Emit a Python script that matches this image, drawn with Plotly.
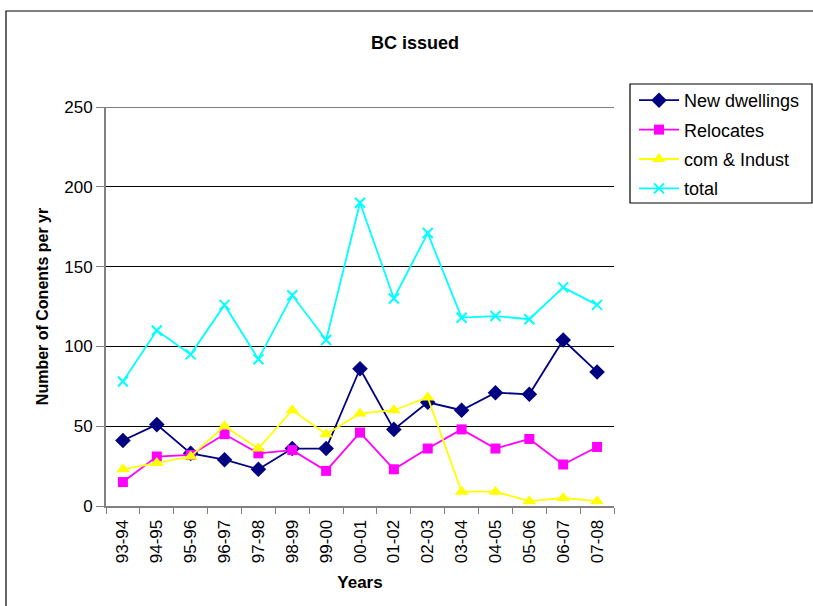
import plotly.graph_objects as go

years = ["93-94", "94-95", "95-96", "96-97", "97-98", "98-99", "99-00", "00-01",
         "01-02", "02-03", "03-04", "04-05", "05-06", "06-07", "07-08"]
new_dwellings = [41, 51, 33, 29, 23, 36, 36, 86, 48, 65, 60, 71, 70, 104, 84]
relocates = [15, 31, 32, 45, 33, 35, 22, 46, 23, 36, 48, 36, 42, 26, 37]
com_indust = [23, 27, 31, 50, 36, 60, 45, 58, 60, 68, 9, 9, 3, 5, 3]
total = [78, 110, 95, 126, 92, 132, 104, 190, 130, 171, 118, 119, 117, 137, 126]

FONT = "Liberation Sans, Arial, sans-serif"

series = [
    ("New dwellings", new_dwellings, "#000080", "diamond", 12),
    ("Relocates", relocates, "#FF00FF", "square", 10),
    ("com & Indust", com_indust, "#FFFF00", "triangle-up", 12),
    ("total", total, "#00FFFF", "x-thin-open", 10),
]

fig = go.Figure()
for name, vals, color, sym, size in series:
    marker = dict(symbol=sym, size=size, color=color)
    if sym == "x-thin-open":
        marker["line"] = dict(color=color, width=2)
    fig.add_trace(go.Scatter(
        x=years, y=vals, name=name, legendgroup=name, mode="lines+markers",
        line=dict(color=color, width=1.8), marker=marker,
    ))

W, H = 813, 606
L, R, T, B = 106, 199, 107, 100
pw, ph = W - L - R, H - T - B

def px_x(p):
    return (p - L) / pw

def px_y(p):
    return (H - B - p) / ph

fig.update_layout(
    width=W, height=H,
    margin=dict(l=L, r=R, t=T, b=B, autoexpand=False),
    paper_bgcolor="white", plot_bgcolor="white",
    font=dict(family=FONT, color="black"),
    showlegend=True,
    title=dict(text="<b>BC issued</b>", x=px_x(415), xref="paper", xanchor="center",
               y=1 - 43 / H, yanchor="middle", font=dict(size=18)),
    legend=dict(
        x=px_x(634), xanchor="left", y=px_y(82), yanchor="top",
        font=dict(size=18), bgcolor="rgba(0,0,0,0)", borderwidth=0,
        itemwidth=40, tracegroupgap=3,
    ),
    xaxis=dict(
        type="category", range=[-0.5, len(years) - 0.5],
        tickangle=-90, tickson="boundaries",
        ticks="outside", ticklen=6, tickcolor="#808080",
        showline=True, linecolor="#808080", linewidth=2,
        tickfont=dict(size=17), ticklabelstandoff=5, showgrid=False,
        title=dict(text="<b>Years</b>", font=dict(size=17), standoff=14),
    ),
    yaxis=dict(
        range=[0, 250], dtick=50, ticks="outside", ticklen=8, tickcolor="#808080",
        showline=True, linecolor="#808080", linewidth=2,
        showgrid=True, gridcolor="black", gridwidth=1, zeroline=False,
        tickfont=dict(size=17),
        title=dict(text="<b>Number of Conents per yr</b>", font=dict(size=16), standoff=12),
    ),
    shapes=[
        # top gridline at the axis maximum
        dict(type="line", xref="paper", yref="y", x0=0, x1=1, y0=250, y1=250,
             line=dict(color="black", width=1)),
        # outer chart frame
        dict(type="rect", xref="paper", yref="paper",
             x0=px_x(6), x1=px_x(830), y0=px_y(620), y1=px_y(11),
             line=dict(color="black", width=1.2), fillcolor="rgba(0,0,0,0)", layer="below"),
        # legend frame
        dict(type="rect", xref="paper", yref="paper",
             x0=px_x(630), x1=px_x(812), y0=px_y(203), y1=px_y(84),
             line=dict(color="black", width=1.2), fillcolor="rgba(0,0,0,0)"),
    ],
)

fig.write_html("out.html")
